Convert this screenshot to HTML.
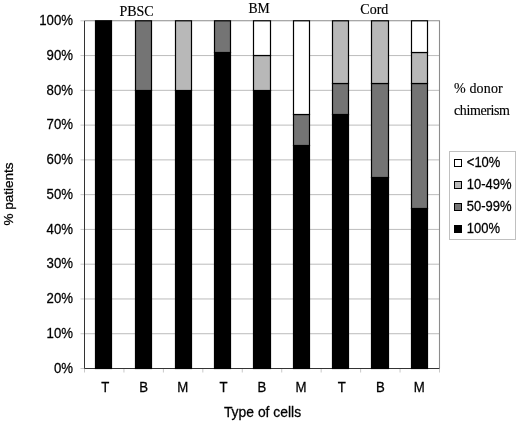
<!DOCTYPE html>
<html><head><meta charset="utf-8"><title>chart</title>
<style>
html,body{margin:0;padding:0;background:#fff;}
svg{display:block;}
.a{font-family:"Liberation Sans",Arial,sans-serif;font-size:13.2px;fill:#000;stroke:#000;stroke-width:0.25px;}
.b{font-family:"Liberation Sans",Arial,sans-serif;font-size:13.9px;fill:#000;stroke:#000;stroke-width:0.25px;}
.t{font-family:"Liberation Serif","Times New Roman",serif;font-size:14px;fill:#000;stroke:#000;stroke-width:0.15px;}
</style></head><body>
<svg width="520" height="423" viewBox="0 0 520 423">
<rect width="520" height="423" fill="#fff"/>
<line x1="84.5" y1="333.73" x2="439.5" y2="333.73" stroke="#bcbcbc" stroke-width="1"/>
<line x1="84.5" y1="298.96" x2="439.5" y2="298.96" stroke="#bcbcbc" stroke-width="1"/>
<line x1="84.5" y1="264.19" x2="439.5" y2="264.19" stroke="#bcbcbc" stroke-width="1"/>
<line x1="84.5" y1="229.42" x2="439.5" y2="229.42" stroke="#bcbcbc" stroke-width="1"/>
<line x1="84.5" y1="194.65" x2="439.5" y2="194.65" stroke="#bcbcbc" stroke-width="1"/>
<line x1="84.5" y1="159.88" x2="439.5" y2="159.88" stroke="#bcbcbc" stroke-width="1"/>
<line x1="84.5" y1="125.11" x2="439.5" y2="125.11" stroke="#bcbcbc" stroke-width="1"/>
<line x1="84.5" y1="90.34" x2="439.5" y2="90.34" stroke="#bcbcbc" stroke-width="1"/>
<line x1="84.5" y1="55.57" x2="439.5" y2="55.57" stroke="#bcbcbc" stroke-width="1"/>
<line x1="80.5" y1="368.50" x2="84.5" y2="368.50" stroke="#c8c8c8" stroke-width="1"/>
<line x1="80.5" y1="333.73" x2="84.5" y2="333.73" stroke="#c8c8c8" stroke-width="1"/>
<line x1="80.5" y1="298.96" x2="84.5" y2="298.96" stroke="#c8c8c8" stroke-width="1"/>
<line x1="80.5" y1="264.19" x2="84.5" y2="264.19" stroke="#c8c8c8" stroke-width="1"/>
<line x1="80.5" y1="229.42" x2="84.5" y2="229.42" stroke="#c8c8c8" stroke-width="1"/>
<line x1="80.5" y1="194.65" x2="84.5" y2="194.65" stroke="#c8c8c8" stroke-width="1"/>
<line x1="80.5" y1="159.88" x2="84.5" y2="159.88" stroke="#c8c8c8" stroke-width="1"/>
<line x1="80.5" y1="125.11" x2="84.5" y2="125.11" stroke="#c8c8c8" stroke-width="1"/>
<line x1="80.5" y1="90.34" x2="84.5" y2="90.34" stroke="#c8c8c8" stroke-width="1"/>
<line x1="80.5" y1="55.57" x2="84.5" y2="55.57" stroke="#c8c8c8" stroke-width="1"/>
<line x1="80.5" y1="20.80" x2="84.5" y2="20.80" stroke="#c8c8c8" stroke-width="1"/>
<path d="M84.5 20.8 H439.5 V368.5" fill="none" stroke="#8c8c8c" stroke-width="1.1"/>
<line x1="84.50" y1="368.5" x2="84.50" y2="372.5" stroke="#c8c8c8" stroke-width="1"/>
<line x1="123.94" y1="368.5" x2="123.94" y2="372.5" stroke="#c8c8c8" stroke-width="1"/>
<line x1="163.39" y1="368.5" x2="163.39" y2="372.5" stroke="#c8c8c8" stroke-width="1"/>
<line x1="202.83" y1="368.5" x2="202.83" y2="372.5" stroke="#c8c8c8" stroke-width="1"/>
<line x1="242.28" y1="368.5" x2="242.28" y2="372.5" stroke="#c8c8c8" stroke-width="1"/>
<line x1="281.72" y1="368.5" x2="281.72" y2="372.5" stroke="#c8c8c8" stroke-width="1"/>
<line x1="321.17" y1="368.5" x2="321.17" y2="372.5" stroke="#c8c8c8" stroke-width="1"/>
<line x1="360.61" y1="368.5" x2="360.61" y2="372.5" stroke="#c8c8c8" stroke-width="1"/>
<line x1="400.06" y1="368.5" x2="400.06" y2="372.5" stroke="#c8c8c8" stroke-width="1"/>
<line x1="439.50" y1="368.5" x2="439.50" y2="372.5" stroke="#c8c8c8" stroke-width="1"/>
<path d="M84.5 20.8 V368.5 H439.5" fill="none" stroke="#333" stroke-width="1"/>
<rect x="95.50" y="20.80" width="16" height="347.70" fill="#000000" stroke="#000" stroke-width="1.2"/>
<rect x="135.50" y="90.50" width="16" height="278.00" fill="#000000" stroke="#000" stroke-width="1.2"/>
<rect x="135.50" y="20.80" width="16" height="69.70" fill="#747474" stroke="#000" stroke-width="1.2"/>
<rect x="175.50" y="90.50" width="16" height="278.00" fill="#000000" stroke="#000" stroke-width="1.2"/>
<rect x="175.50" y="20.80" width="16" height="69.70" fill="#b8b8b8" stroke="#000" stroke-width="1.2"/>
<rect x="214.50" y="52.50" width="16" height="316.00" fill="#000000" stroke="#000" stroke-width="1.2"/>
<rect x="214.50" y="20.80" width="16" height="31.70" fill="#747474" stroke="#000" stroke-width="1.2"/>
<rect x="253.50" y="90.50" width="17" height="278.00" fill="#000000" stroke="#000" stroke-width="1.2"/>
<rect x="253.50" y="55.50" width="17" height="35.00" fill="#b8b8b8" stroke="#000" stroke-width="1.2"/>
<rect x="253.50" y="20.80" width="17" height="34.70" fill="#ffffff" stroke="#000" stroke-width="1.2"/>
<rect x="293.50" y="145.50" width="16" height="223.00" fill="#000000" stroke="#000" stroke-width="1.2"/>
<rect x="293.50" y="114.50" width="16" height="31.00" fill="#747474" stroke="#000" stroke-width="1.2"/>
<rect x="293.50" y="20.80" width="16" height="93.70" fill="#ffffff" stroke="#000" stroke-width="1.2"/>
<rect x="332.50" y="114.50" width="16" height="254.00" fill="#000000" stroke="#000" stroke-width="1.2"/>
<rect x="332.50" y="83.50" width="16" height="31.00" fill="#747474" stroke="#000" stroke-width="1.2"/>
<rect x="332.50" y="20.80" width="16" height="62.70" fill="#b8b8b8" stroke="#000" stroke-width="1.2"/>
<rect x="371.50" y="177.50" width="17" height="191.00" fill="#000000" stroke="#000" stroke-width="1.2"/>
<rect x="371.50" y="83.50" width="17" height="94.00" fill="#747474" stroke="#000" stroke-width="1.2"/>
<rect x="371.50" y="20.80" width="17" height="62.70" fill="#b8b8b8" stroke="#000" stroke-width="1.2"/>
<rect x="411.50" y="208.50" width="16" height="160.00" fill="#000000" stroke="#000" stroke-width="1.2"/>
<rect x="411.50" y="83.50" width="16" height="125.00" fill="#747474" stroke="#000" stroke-width="1.2"/>
<rect x="411.50" y="52.50" width="16" height="31.00" fill="#b8b8b8" stroke="#000" stroke-width="1.2"/>
<rect x="411.50" y="20.80" width="16" height="31.70" fill="#ffffff" stroke="#000" stroke-width="1.2"/>
<text transform="translate(73.00,372.70) scale(1,1.08)" text-anchor="end" class="a">0%</text>
<text transform="translate(73.00,337.93) scale(1,1.08)" text-anchor="end" class="a">10%</text>
<text transform="translate(73.00,303.16) scale(1,1.08)" text-anchor="end" class="a">20%</text>
<text transform="translate(73.00,268.39) scale(1,1.08)" text-anchor="end" class="a">30%</text>
<text transform="translate(73.00,233.62) scale(1,1.08)" text-anchor="end" class="a">40%</text>
<text transform="translate(73.00,198.85) scale(1,1.08)" text-anchor="end" class="a">50%</text>
<text transform="translate(73.00,164.08) scale(1,1.08)" text-anchor="end" class="a">60%</text>
<text transform="translate(73.00,129.31) scale(1,1.08)" text-anchor="end" class="a">70%</text>
<text transform="translate(73.00,94.54) scale(1,1.08)" text-anchor="end" class="a">80%</text>
<text transform="translate(73.00,59.77) scale(1,1.08)" text-anchor="end" class="a">90%</text>
<text transform="translate(73.00,25.00) scale(1,1.08)" text-anchor="end" class="a">100%</text>
<text transform="translate(105.22,392.00) scale(1,1.1)" text-anchor="middle" class="a">T</text>
<text transform="translate(143.67,392.00) scale(1,1.1)" text-anchor="middle" class="a">B</text>
<text transform="translate(182.61,392.00) scale(1,1.1)" text-anchor="middle" class="a">M</text>
<text transform="translate(223.56,392.00) scale(1,1.1)" text-anchor="middle" class="a">T</text>
<text transform="translate(262.00,392.00) scale(1,1.1)" text-anchor="middle" class="a">B</text>
<text transform="translate(300.94,392.00) scale(1,1.1)" text-anchor="middle" class="a">M</text>
<text transform="translate(341.89,392.00) scale(1,1.1)" text-anchor="middle" class="a">T</text>
<text transform="translate(380.33,392.00) scale(1,1.1)" text-anchor="middle" class="a">B</text>
<text transform="translate(419.28,392.00) scale(1,1.1)" text-anchor="middle" class="a">M</text>
<text transform="translate(262.50,416.70) scale(1,1.05)" text-anchor="middle" class="b">Type of cells</text>
<text transform="translate(12.7,194) rotate(-90) scale(1.04,1.0)" text-anchor="middle" class="b" style="font-size:13px">% patients</text>
<text transform="translate(136.50,16.40) scale(1,1.04)" text-anchor="middle" class="t">PBSC</text>
<text transform="translate(259.10,13.20) scale(1,1.02)" text-anchor="middle" class="t" style="font-size:13.7px">BM</text>
<text transform="translate(374.30,13.65) scale(1,1.07)" text-anchor="middle" class="t">Cord</text>
<text transform="translate(454.00,92.70) scale(1,1.04)" class="t" textLength="48.7">% donor</text>
<text transform="translate(454.00,115.20) scale(1,1.04)" class="t" textLength="56">chimerism</text>
<rect x="449.5" y="151.5" width="66" height="88" fill="#fff" stroke="#c0c0c0" stroke-width="1"/>
<rect x="454.5" y="159.50" width="7" height="7" fill="#ffffff" stroke="#000" stroke-width="1"/>
<text transform="translate(466.80,167.10) scale(1,1.08)" class="a" style="font-size:13px">&lt;10%</text>
<rect x="454.5" y="181.50" width="7" height="7" fill="#b8b8b8" stroke="#000" stroke-width="1"/>
<text transform="translate(466.80,189.10) scale(1,1.08)" class="a" style="font-size:13px">10-49%</text>
<rect x="454.5" y="203.50" width="7" height="7" fill="#747474" stroke="#000" stroke-width="1"/>
<text transform="translate(466.80,211.10) scale(1,1.08)" class="a" style="font-size:13px">50-99%</text>
<rect x="454.5" y="225.50" width="7" height="7" fill="#000000" stroke="#000" stroke-width="1"/>
<text transform="translate(466.80,233.10) scale(1,1.08)" class="a" style="font-size:13px">100%</text>
</svg>
</body></html>
